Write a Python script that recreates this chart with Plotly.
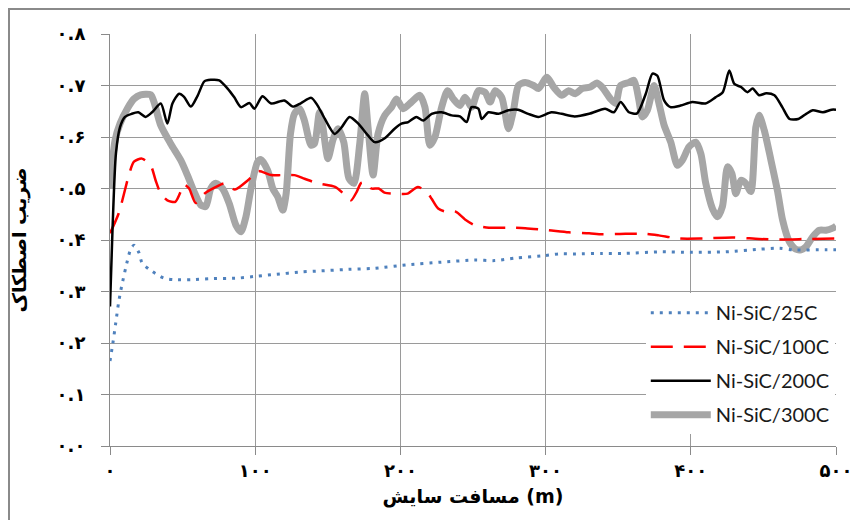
import plotly.graph_objects as go

# ---------------- data ----------------
x_ticks = [0, 100, 200, 300, 400, 500]
x_ticktext = ["۰", "۱۰۰", "۲۰۰", "۳۰۰", "۴۰۰", "۵۰۰"]
y_ticks = [0, 0.1, 0.2, 0.3, 0.4, 0.5, 0.6, 0.7, 0.8]
y_ticktext = ["۰.۰", "۰.۱", "۰.۲", "۰.۳", "۰.۴", "۰.۵", "۰.۶", "۰.۷", "۰.۸"]

x_title = "مسافت سایش (m)"
y_title = "ضریب اصطکاک"

names = ["Ni-SiC/25C", "Ni-SiC/100C", "Ni-SiC/200C", "Ni-SiC/300C"]

x25 = [0, 2, 4, 6, 8, 12, 14, 16.5, 20, 22, 27, 37, 44, 57, 69, 88, 102, 113, 132, 145,
       164, 182, 205, 228, 251, 265, 279, 297, 309, 321, 339, 355, 378, 401, 424, 447,
       461, 470, 493, 500]
y25 = [0.165, 0.2, 0.24, 0.28, 0.31, 0.36, 0.38, 0.39, 0.375, 0.356, 0.343, 0.326, 0.323,
       0.323, 0.325, 0.326, 0.33, 0.333, 0.338, 0.34, 0.343, 0.345, 0.352, 0.357, 0.361,
       0.36, 0.365, 0.369, 0.373, 0.373, 0.374, 0.374, 0.377, 0.376, 0.377, 0.382, 0.384,
       0.381, 0.381, 0.381]

x100 = [0, 6, 13, 16.5, 22, 28, 31.4, 35, 39.5, 45, 48.7, 51, 54.5, 59, 65, 73, 79, 86, 95,
        102, 111, 118, 127, 134, 143, 155, 162, 166, 170, 173, 177, 180, 185, 189, 196, 205,
        209, 212, 218, 221.5, 226, 231, 238, 244.5, 251, 261, 274, 286, 302, 316, 330, 339,
        355, 369, 378, 392, 408, 429, 447, 461, 480, 500]
y100 = [0.413, 0.452, 0.526, 0.552, 0.558, 0.545, 0.516, 0.49, 0.477, 0.474, 0.494, 0.508,
        0.5, 0.472, 0.49, 0.503, 0.51, 0.498, 0.516, 0.534, 0.526, 0.526, 0.526, 0.519, 0.51,
        0.503, 0.487, 0.477, 0.494, 0.511, 0.511, 0.5, 0.5, 0.492, 0.49, 0.49, 0.498, 0.503,
        0.494, 0.48, 0.461, 0.455, 0.455, 0.44, 0.429, 0.424, 0.424, 0.423, 0.419, 0.415,
        0.413, 0.411, 0.412, 0.412, 0.409, 0.403, 0.403, 0.405, 0.402, 0.401, 0.402, 0.403]

x200 = [0, 1.8, 4.1, 6.9, 10.3, 14.9, 19.5, 24.5, 29, 35, 39.5, 43, 47.6, 51, 55.7, 60.3, 65,
        69.4, 75.2, 81, 85.6, 90.2, 96, 99.4, 105, 111, 120, 126, 131.6, 138.6, 143, 148,
        154.7, 159.3, 165, 171, 177.7, 182.3, 189, 196, 200.7, 205.4, 211, 215.7, 221.5,
        228.4, 235.3, 241, 245.6, 249, 253.7, 256, 260.6, 267.5, 274.4, 281, 288, 295, 304,
        311, 320, 330, 341, 347, 351.7, 357.4, 363, 369, 373.6, 377, 381.6, 386, 393, 401,
        410, 417, 422, 426.5, 430, 434.6, 439, 442.6, 447, 452, 457.6, 463, 468, 474, 479.5,
        484, 491, 497, 500]
y200 = [0.271, 0.426, 0.568, 0.619, 0.639, 0.645, 0.648, 0.639, 0.648, 0.665, 0.626, 0.665,
        0.684, 0.678, 0.659, 0.68, 0.708, 0.711, 0.71, 0.694, 0.677, 0.658, 0.666, 0.655,
        0.679, 0.665, 0.671, 0.659, 0.666, 0.676, 0.661, 0.635, 0.606, 0.618, 0.639, 0.626,
        0.603, 0.59, 0.597, 0.616, 0.626, 0.629, 0.639, 0.632, 0.645, 0.648, 0.642, 0.64,
        0.629, 0.658, 0.655, 0.635, 0.648, 0.645, 0.652, 0.653, 0.645, 0.639, 0.648, 0.645,
        0.64, 0.645, 0.655, 0.648, 0.668, 0.648, 0.646, 0.684, 0.723, 0.719, 0.671, 0.658,
        0.661, 0.668, 0.665, 0.677, 0.687, 0.729, 0.703, 0.697, 0.687, 0.694, 0.681, 0.685,
        0.681, 0.658, 0.635, 0.635, 0.645, 0.652, 0.648, 0.653, 0.653]

x300 = [0, 3.5, 6.9, 11.9, 16.5, 21.1, 28, 30.3, 34.9, 41.8, 48.7, 53.3, 57.9, 62.5, 66, 69.4,
        72.9, 77.5, 82.1, 86.7, 90.2, 93.6, 97.1, 101.7, 104, 108.6, 112.1, 115.5, 119, 121.3,
        124.3, 127, 130.5, 133.9, 138.5, 140.8, 144.3, 146.6, 150.1, 153.5, 157, 161, 164.5,
        168, 172, 175.4, 177.7, 181.2, 184.6, 189.2, 193.9, 197.3, 201.9, 207.7, 213.4, 216.9,
        220.3, 223.8, 228.4, 232.5, 236.4, 241, 244.5, 249.1, 253.7, 258.3, 261.8, 265.2,
        269.8, 274.4, 277.9, 281.3, 285.9, 291.7, 295.1, 300.9, 305.5, 311.2, 315.8, 320.4,
        325.1, 330.8, 335.4, 338.9, 344.7, 348.2, 351.6, 357.4, 360.9, 364.3, 366.6, 370.1,
        374.7, 378.1, 381.6, 386.2, 390.8, 394.2, 398.8, 403.4, 406.9, 410.3, 414.9, 418.4,
        421.8, 425.3, 428.3, 431, 434.5, 437.9, 441.4, 444.8, 447.1, 450.6, 455.2, 459.8,
        463.2, 467.8, 472.4, 475.9, 479.3, 483.9, 488.5, 493.1, 497.7, 500]
y300 = [0.5, 0.594, 0.626, 0.655, 0.674, 0.682, 0.682, 0.668, 0.623, 0.587, 0.555, 0.526,
        0.494, 0.468, 0.465, 0.5, 0.51, 0.5, 0.471, 0.429, 0.416, 0.445, 0.5, 0.552, 0.556,
        0.535, 0.5, 0.484, 0.458, 0.49, 0.606, 0.645, 0.655, 0.632, 0.584, 0.587, 0.648,
        0.619, 0.558, 0.594, 0.616, 0.59, 0.52, 0.51, 0.587, 0.684, 0.619, 0.526, 0.606,
        0.642, 0.658, 0.674, 0.655, 0.668, 0.681, 0.658, 0.584, 0.6, 0.658, 0.69, 0.674,
        0.661, 0.677, 0.658, 0.69, 0.687, 0.668, 0.69, 0.677, 0.616, 0.652, 0.7, 0.706, 0.7,
        0.694, 0.716, 0.697, 0.681, 0.69, 0.684, 0.694, 0.697, 0.705, 0.697, 0.674, 0.665,
        0.7, 0.706, 0.71, 0.671, 0.639, 0.652, 0.7, 0.665, 0.623, 0.59, 0.545, 0.555, 0.581,
        0.59, 0.568, 0.51, 0.461, 0.445, 0.465, 0.542, 0.529, 0.49, 0.516, 0.51, 0.494,
        0.619, 0.642, 0.613, 0.555, 0.494, 0.439, 0.397, 0.382, 0.381, 0.387, 0.406, 0.419,
        0.419, 0.423, 0.427]

# ---------------- figure ----------------
fig = go.Figure()
SM = 0.7
# gray drawn first (underneath), legend order kept by legendrank
fig.add_trace(go.Scatter(x=x300, y=y300, name=names[3], mode="lines", legendrank=4,
                         legendgroup="g4", line=dict(color="#A6A6A6", width=7,
                                                     shape="spline", smoothing=SM)))
fig.add_trace(go.Scatter(x=x25, y=y25, name=names[0], mode="lines", legendrank=1,
                         legendgroup="g1", line=dict(color="#4F81BD", width=3, dash="3px,6px",
                                                     shape="spline", smoothing=SM)))
fig.add_trace(go.Scatter(x=x100, y=y100, name=names[1], mode="lines", legendrank=2,
                         legendgroup="g2", line=dict(color="#FF0000", width=2.5, dash="22px,11px",
                                                     shape="spline", smoothing=SM)))
fig.add_trace(go.Scatter(x=x200, y=y200, name=names[2], mode="lines", legendrank=3,
                         legendgroup="g3", line=dict(color="#000000", width=2.5,
                                                     shape="spline", smoothing=SM)))

axis_font = dict(family="DejaVu Sans", size=18, color="#000000", weight="bold")
title_font = dict(family="DejaVu Sans", size=19, color="#000000", weight="bold")

fig.update_xaxes(range=[0, 500], tickvals=x_ticks, ticktext=x_ticktext,
                 showgrid=True, gridcolor="#9a9a9a", gridwidth=1,
                 showline=True, linecolor="#8a8a8a", linewidth=1,
                 ticks="outside", ticklen=8, tickcolor="#8a8a8a",
                 zeroline=False, tickfont=axis_font, automargin=False,
                 title=dict(text=x_title, font=title_font, standoff=10))
fig.update_yaxes(range=[0, 0.8], tickvals=y_ticks, ticktext=y_ticktext,
                 showgrid=True, gridcolor="#9a9a9a", gridwidth=1,
                 showline=True, linecolor="#8a8a8a", linewidth=1,
                 ticks="outside", ticklen=8, tickcolor="#8a8a8a",
                 zeroline=False, tickfont=axis_font, ticklabelstandoff=12,
                 automargin=False,
                 title=dict(text=y_title, font=title_font, standoff=30))

# plot area: 726 x 412 px
L, T, PW, PH = 102, 26, 726, 412
fig.update_layout(
    width=858, height=520,
    margin=dict(l=L, r=858 - L - PW, t=T, b=520 - T - PH),
    plot_bgcolor="white", paper_bgcolor="white",
    showlegend=True,
    legend=dict(x=0.738, y=0.371, xanchor="left", yanchor="top",
                bgcolor="white", borderwidth=0,
                font=dict(family="Lato", size=20, color="#1a1a1a"),
                tracegroupgap=5, itemwidth=60),
    shapes=[dict(type="rect", xref="paper", yref="paper",
                 x0=-(L - 1) / PW, x1=1.2, y0=-0.4, y1=1 + (T - 1) / PH,
                 line=dict(color="#8a8a8a", width=2), fillcolor="rgba(0,0,0,0)",
                 layer="below")],
)

fig.write_html("out.html")
